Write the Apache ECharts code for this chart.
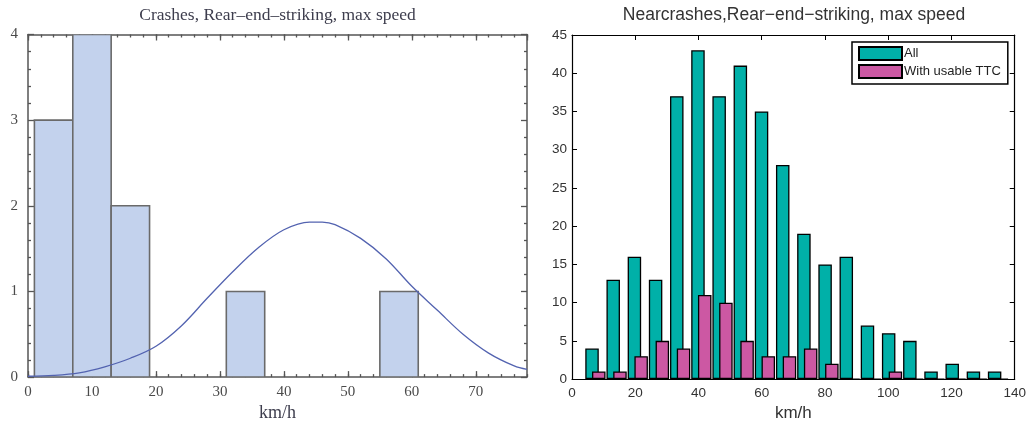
<!DOCTYPE html>
<html>
<head>
<meta charset="utf-8">
<script src="https://cdn.jsdelivr.net/npm/echarts@6/dist/echarts.min.js"></script>
<style>
html,body{margin:0;padding:0;background:#fff;}
#chart{width:1029px;height:427px;}
</style>
</head>
<body>
<div id="chart"></div>
<script>
// ---- Left panel: Crashes histogram ----
const crashBinStarts = [1, 7, 13, 31, 55];
const crashBinWidth = 6;
const crashCounts = [3, 4, 2, 1, 1];
// fitted curve, points
const fitX = [0, 4, 8, 12, 16, 20, 24, 28, 32, 36, 40, 44, 46, 48, 52, 56, 60, 64, 68, 72, 76, 78];
const fitY = [0.01, 0.02, 0.05, 0.12, 0.22, 0.36, 0.60, 0.92, 1.23, 1.51, 1.72, 1.81, 1.81, 1.78, 1.62, 1.38, 1.06, 0.78, 0.50, 0.28, 0.13, 0.09];
const leftTitle = 'Crashes, Rear\u2013end\u2013striking, max speed';

// ---- Right panel: Nearcrashes ----
const nearCenters = [7.4, 14.1, 20.8, 27.5, 34.2, 40.9, 47.6, 54.3, 61.0, 67.7, 74.4, 81.1, 87.8, 94.5, 101.2, 107.9, 114.6, 121.3, 128.0, 134.7];
const nearAll = [4, 13, 16, 13, 37, 43, 37, 41, 35, 28, 19, 15, 16, 7, 6, 5, 1, 2, 1, 1];
const nearTTC = [1, 1, 3, 5, 4, 11, 10, 5, 3, 3, 4, 2, 0, 0, 1, 0, 0, 0, 0, 0];
const rightTitle = 'Nearcrashes,Rear\u2212end\u2212striking, max speed';
const legendNames = ['All', 'With usable TTC'];
const xName = 'km/h';

const serif = 'Liberation Serif';
const sans = 'Liberation Sans';
const lc = '#555';
const rc = '#000';

function axBase(extra) {
  return Object.assign({
    type: 'value',
    splitLine: { show: false },
    axisLine: { show: false, onZero: false },
    axisTick: { show: false },
    axisLabel: { show: false },
    minorTick: { show: false }
  }, extra);
}

const crashData = crashBinStarts.map((s, i) => [s, s + crashBinWidth, crashCounts[i]]);

const option = {
  animation: false,
  backgroundColor: '#fff',
  title: [
    { text: leftTitle, left: 277.5, top: 6, padding: 0, textAlign: 'center',
      textStyle: { fontFamily: serif, fontSize: 17.5, fontWeight: 'normal', color: '#3d3d4d' } },
    { text: rightTitle, left: 794, top: 6, padding: 0, textAlign: 'center',
      textStyle: { fontFamily: sans, fontSize: 17.5, fontWeight: 'normal', color: '#333' } }
  ],
  legend: {
    data: legendNames,
    orient: 'vertical',
    left: 852, top: 42,
    padding: [4, 7, 5, 6],
    itemGap: 3,
    itemWidth: 43, itemHeight: 13,
    icon: 'rect',
    borderColor: '#000', borderWidth: 1.5, borderRadius: 0,
    backgroundColor: '#fff',
    textStyle: { fontFamily: sans, fontSize: 13, color: '#222', padding: [0, 0, 0, -3] }
  },
  grid: [
    { left: 28, top: 34.5, width: 499, height: 348, containLabel: false },
    { left: 572, top: 35, width: 444, height: 349, containLabel: false }
  ],
  xAxis: [
    axBase({ gridIndex: 0, position: 'bottom', min: 0, max: 78, interval: 10,
      axisLine: { show: true, onZero: false, lineStyle: { color: lc, width: 1.5 } },
      axisTick: { show: true, inside: true, length: 6, lineStyle: { color: lc, width: 1.3 } },
      axisLabel: { show: true, showMaxLabel: false, margin: 7, fontFamily: serif, fontSize: 15, color: '#4a4a4a' },
      name: xName, nameLocation: 'middle', nameGap: 23,
      nameTextStyle: { fontFamily: serif, fontSize: 18, color: '#3d3d4d' } }),
    axBase({ gridIndex: 0, position: 'bottom', min: 0, max: 78, interval: 2,
      axisTick: { show: true, inside: true, length: 3, lineStyle: { color: lc, width: 1.3 } } }),
    axBase({ gridIndex: 0, position: 'top', min: 0, max: 78, interval: 10,
      axisLine: { show: true, onZero: false, lineStyle: { color: lc, width: 1.5 } },
      axisTick: { show: true, inside: true, length: 6, lineStyle: { color: lc, width: 1.3 } } }),
    axBase({ gridIndex: 0, position: 'top', min: 0, max: 78, interval: 2,
      axisTick: { show: true, inside: true, length: 3, lineStyle: { color: lc, width: 1.3 } } }),
    axBase({ gridIndex: 1, position: 'bottom', min: 0, max: 140, interval: 20,
      axisLine: { show: true, onZero: false, lineStyle: { color: rc, width: 1.2 } },
      axisTick: { show: true, inside: true, length: 5, lineStyle: { color: rc, width: 1 } },
      axisLabel: { show: true, margin: 7, fontFamily: sans, fontSize: 13.5, color: '#333' },
      name: xName, nameLocation: 'middle', nameGap: 24,
      nameTextStyle: { fontFamily: sans, fontSize: 17, color: '#333' } }),
    axBase({ gridIndex: 1, position: 'top', min: 0, max: 140, interval: 20,
      axisLine: { show: true, onZero: false, lineStyle: { color: rc, width: 1.2 } },
      axisTick: { show: true, inside: true, length: 5, lineStyle: { color: rc, width: 1 } } })
  ],
  yAxis: [
    axBase({ gridIndex: 0, position: 'left', min: 0, max: 4, interval: 1,
      axisLine: { show: true, onZero: false, lineStyle: { color: lc, width: 1.5 } },
      axisTick: { show: true, inside: true, length: 6, lineStyle: { color: lc, width: 1.3 } },
      minorTick: { show: true, splitNumber: 5, length: 3, lineStyle: { color: lc, width: 1.3 } },
      axisLabel: { show: true, margin: 10, fontFamily: serif, fontSize: 15, color: '#4a4a4a' } }),
    axBase({ gridIndex: 0, position: 'right', min: 0, max: 4, interval: 1,
      axisLine: { show: true, onZero: false, lineStyle: { color: lc, width: 1.5 } },
      axisTick: { show: true, inside: true, length: 6, lineStyle: { color: lc, width: 1.3 } },
      minorTick: { show: true, splitNumber: 5, length: 3, lineStyle: { color: lc, width: 1.3 } } }),
    axBase({ gridIndex: 1, position: 'left', min: 0, max: 45, interval: 5,
      axisLine: { show: true, onZero: false, lineStyle: { color: rc, width: 1.2 } },
      axisTick: { show: true, inside: true, length: 5, lineStyle: { color: rc, width: 1 } },
      axisLabel: { show: true, margin: 5, fontFamily: sans, fontSize: 13.5, color: '#333' } }),
    axBase({ gridIndex: 1, position: 'right', min: 0, max: 45, interval: 5,
      axisLine: { show: true, onZero: false, lineStyle: { color: rc, width: 1.2 } },
      axisTick: { show: true, inside: true, length: 5, lineStyle: { color: rc, width: 1 } } })
  ],
  series: [
    {
      type: 'custom',
      xAxisIndex: 0, yAxisIndex: 0,
      data: crashData,
      encode: { x: [0, 1], y: 2 },
      clip: true,
      renderItem: function (params, api) {
        const p0 = api.coord([api.value(0), api.value(2)]);
        const p1 = api.coord([api.value(1), 0]);
        return {
          type: 'rect',
          shape: { x: p0[0], y: p0[1], width: p1[0] - p0[0], height: p1[1] - p0[1] },
          style: { fill: '#c3d2ed', stroke: '#6a6a6a', lineWidth: 1.6 }
        };
      },
      z: 2
    },
    {
      type: 'line',
      xAxisIndex: 0, yAxisIndex: 0,
      data: fitX.map((x, i) => [x, fitY[i]]),
      smooth: 0.35,
      symbol: 'none',
      clip: true,
      lineStyle: { color: '#5363b0', width: 1.3 },
      z: 3
    },
    {
      name: legendNames[0],
      type: 'bar',
      xAxisIndex: 4, yAxisIndex: 2,
      data: nearCenters.map((c, i) => [c, nearAll[i]]),
      barWidth: 13.5,
      barGap: '-50%',
      itemStyle: { color: '#00b0a8', borderColor: '#000', borderWidth: 1.3 },
      z: 2
    },
    {
      name: legendNames[1],
      type: 'bar',
      xAxisIndex: 4, yAxisIndex: 2,
      data: nearCenters.map((c, i) => [c, nearTTC[i]]),
      barWidth: 13.5,
      barGap: '-50%',
      itemStyle: { color: '#cc58a3', borderColor: '#000', borderWidth: 1.3 },
      z: 3
    }
  ]
};

const chart = echarts.init(document.getElementById('chart'), null, { renderer: 'canvas' });
chart.setOption(option);
</script>
</body>
</html>
